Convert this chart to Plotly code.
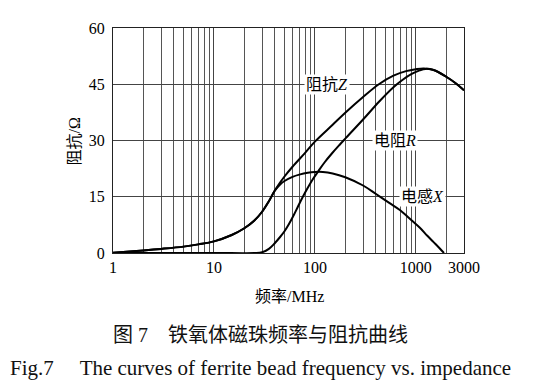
import math
import plotly.graph_objects as go

# Frequency (MHz) and values (Ohm)
freq_z = [1, 2, 3, 5, 7, 10, 15, 20, 25, 30, 35, 40, 45, 50, 60, 80, 100, 150, 200,
          300, 430, 600, 800, 1000, 1200, 1500, 2000, 2500, 3000]
imp_z = [0.1, 0.7, 1.1, 1.7, 2.3, 3.1, 4.8, 6.6, 8.6, 11.0, 13.8, 16.6, 18.7, 20.4, 23.0,
         26.7, 29.7, 34.2, 37.4, 41.6, 45.0, 47.3, 48.5, 49.0, 49.2, 48.8, 47.0, 45.2, 43.4]

freq_x = [1, 2, 3, 5, 7, 10, 15, 20, 25, 30, 35, 40, 45, 50, 60, 70, 85, 100, 120, 150,
          200, 300, 400, 550, 700, 900, 1090, 1300, 1500, 1700, 1900]
ind_x = [0.1, 0.7, 1.1, 1.7, 2.3, 3.1, 4.8, 6.6, 8.6, 11.0, 13.8, 16.6, 18.2, 19.2, 20.3,
         20.9, 21.4, 21.6, 21.6, 21.2, 20.2, 18.0, 15.8, 13.3, 11.4, 8.8, 6.8, 4.6, 2.9, 1.4, 0.0]

freq_r = [1, 10, 25, 30, 35, 40, 45, 50, 55, 62, 68, 76, 85, 95, 108, 125, 148, 175, 200,
          300, 434, 600, 741, 900, 1090, 1250, 1500, 2000, 2500, 3000]
res_r = [0.0, 0.0, 0.0, 0.2, 1.1, 2.6, 4.2, 5.8, 7.6, 10.2, 12.4, 15.0, 17.4, 19.6, 21.8,
         24.2, 26.6, 28.8, 30.5, 35.6, 40.4, 44.2, 46.2, 47.7, 48.7, 49.1, 48.8, 47.0, 45.2, 43.4]

y_ticks = [0, 15, 30, 45, 60]
x_ticks = [1, 10, 100, 1000, 3000]
x_tick_text = ["1", "10", "100", "1000", "3000"]
x_minor = [d * m for m in (1, 10, 100, 1000) for d in range(2, 10)] + [2000]

labels = [("阻抗<i>Z</i>", 132, 45), ("电阻<i>R</i>", 617, 30), ("电感<i>X</i>", 1175, 15)]

SERIF = "Liberation Serif, Times New Roman, Noto Sans CJK SC, serif"
CJK = "Liberation Serif, Noto Sans CJK SC, serif"

fig = go.Figure()
line = dict(color="black", width=2, shape="spline", smoothing=1.0)
fig.add_trace(go.Scatter(x=freq_z, y=imp_z, mode="lines", line=line, name="Z"))
fig.add_trace(go.Scatter(x=freq_x, y=ind_x, mode="lines", line=line, name="X"))
fig.add_trace(go.Scatter(x=freq_r, y=res_r, mode="lines", line=line, name="R"))

for text, fx, vy in labels:
    fig.add_annotation(x=math.log10(fx), y=vy, text=text, showarrow=False,
                       bgcolor="white", font=dict(family=CJK, size=16, color="black"),
                       borderpad=1)

fig.update_xaxes(type="log", range=[0, 3.4771], tickvals=x_ticks, ticktext=x_tick_text,
                 showgrid=True, gridcolor="#444", gridwidth=1,
                 minor=dict(tickvals=x_minor, showgrid=True, gridcolor="#555", gridwidth=1, ticks=""),
                 showline=True, linecolor="#222", linewidth=1, mirror=True, ticks="",
                 zeroline=False, tickfont=dict(family=SERIF, size=16, color="black"))
fig.update_yaxes(range=[0, 60], tickvals=y_ticks, showgrid=True, gridcolor="#444", gridwidth=1,
                 showline=True, linecolor="#222", linewidth=1, mirror=True, ticks="",
                 zeroline=False, ticklabelstandoff=4,
                 tickfont=dict(family=SERIF, size=16, color="black"))

# page has an 8px body margin; plot area in screenshot spans x 113..464, y 21..253
def px2paper_x(px):
    return (px - 113) / 351.0

def px2paper_y(py):
    return (253 - py) / 232.0

fig.add_annotation(xref="paper", yref="paper", x=px2paper_x(289), y=px2paper_y(298),
                   xanchor="center", yanchor="middle",
                   text="频率/MHz", showarrow=False, font=dict(family=CJK, size=16, color="black"))
fig.add_annotation(xref="paper", yref="paper", x=px2paper_x(74), y=px2paper_y(138),
                   xanchor="center", yanchor="middle",
                   text="阻抗/Ω", textangle=-90, showarrow=False,
                   font=dict(family=CJK, size=16, color="black"))
fig.add_annotation(xref="paper", yref="paper", x=px2paper_x(260), y=px2paper_y(338),
                   xanchor="center", yanchor="middle",
                   text="图 7　铁氧体磁珠频率与阻抗曲线", showarrow=False,
                   font=dict(family=CJK, size=20, color="#111"))
fig.add_annotation(xref="paper", yref="paper", x=px2paper_x(8), y=px2paper_y(372),
                   xanchor="left", yanchor="middle",
                   text="Fig.7　 The curves of ferrite bead frequency vs. impedance",
                   showarrow=False, font=dict(family=SERIF, size=21, color="#111"))

fig.update_layout(width=546, height=392, margin=dict(l=105, r=90, t=13, b=147),
                  paper_bgcolor="white", plot_bgcolor="white", showlegend=False)

fig.write_html("out.html")
